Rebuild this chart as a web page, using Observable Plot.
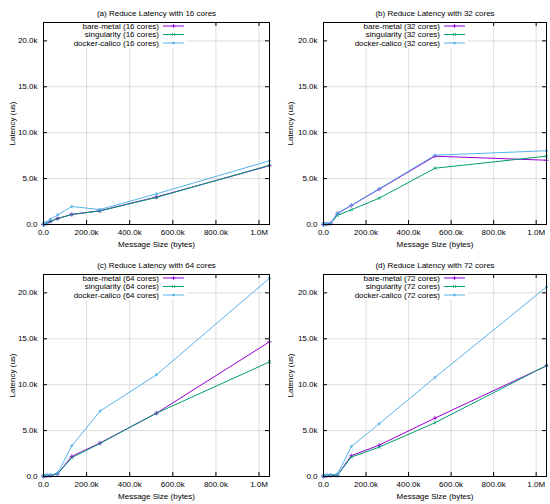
<!DOCTYPE html>
<html>
<head>
<meta charset="utf-8">
<script src="https://cdn.jsdelivr.net/npm/d3@7"></script>
<script src="https://cdn.jsdelivr.net/npm/@observablehq/plot@0.6"></script>
<style>
  body { margin: 0; background: #fff; }
  #chart { width: 550px; display: grid; grid-template-columns: 275px 275px; }
  #chart svg { display: block; }
</style>
</head>
<body>
<div id="chart"></div>
<script>
// message sizes (bytes)
const sizes = [8, 64, 512, 4096, 16384, 32768, 65536, 131072, 262144, 524288, 1048576]

// latency (us)
const bare16   = [10, 12, 20, 50, 150, 350, 650, 1100, 1500, 3000, 6400]
const sing16   = [10, 12, 20, 50, 150, 340, 640, 1080, 1480, 2950, 6450]
const docker16 = [15, 18, 30, 80, 250, 580, 1050, 1960, 1630, 3340, 6940]

const bare32   = [10, 12, 20, 40, 60, 100, 1200, 2070, 3850, 7440, 7000]
const sing32   = [10, 12, 20, 40, 60, 90, 1000, 1600, 2870, 6130, 7440]
const docker32 = [12, 15, 25, 50, 80, 120, 1250, 2100, 3900, 7550, 8030]

const bare64   = [20, 25, 40, 60, 80, 100, 290, 2190, 3650, 6900, 14670]
const sing64   = [20, 25, 40, 60, 80, 100, 280, 2050, 3600, 6900, 12480]
const docker64 = [30, 35, 60, 100, 150, 200, 350, 3340, 7120, 11080, 21600]

const bare72   = [20, 25, 40, 60, 80, 100, 150, 2270, 3420, 6360, 12050]
const sing72   = [20, 25, 40, 60, 80, 100, 140, 2120, 3200, 5860, 12080]
const docker72 = [30, 35, 60, 100, 150, 200, 250, 3270, 5750, 10790, 20640]

const seriesNames = ['bare-metal', 'singularity', 'docker-calico']
const colors = ['#9400d3', '#009e73', '#56b4e9']
const symbols = ['plus', 'times', 'asterisk']
const d3symbols = [d3.symbolPlus, d3.symbolTimes, d3.symbolAsterisk]

const xTicks = [0, 200000, 400000, 600000, 800000, 1000000]
const yTicks = [0, 5000, 10000, 15000, 20000]

const panels = [
  {letter: 'a', cores: 16, data: [bare16, sing16, docker16]},
  {letter: 'b', cores: 32, data: [bare32, sing32, docker32]},
  {letter: 'c', cores: 64, data: [bare64, sing64, docker64]},
  {letter: 'd', cores: 72, data: [bare72, sing72, docker72]},
]

const fmtX = d => d == 0 ? '0.0' : d >= 1000000 ? (d / 1000000).toFixed(1) + 'M' : (d / 1000).toFixed(1) + 'k'
const fmtY = d => d == 0 ? '0.0' : (d / 1000).toFixed(1) + 'k'

const font = '"Liberation Sans", Arial, sans-serif'

panels.forEach((p, i) => {
  let right = i % 2 == 1
  let ml = right ? 48 : 43
  let mr = right ? 4 : 6
  let W = 275, H = 252, mt = 22, mb = 28
  let fw = W - ml - mr, fh = H - mt - mb

  let rows = []
  p.data.forEach((vals, s) => {
    sizes.forEach((size, j) => rows.push({size, latency: vals[j], series: `${seriesNames[s]} (${p.cores} cores)`}))
  })
  let labels = seriesNames.map(n => `${n} (${p.cores} cores)`)

  let chart = Plot.plot({
    width: W, height: H,
    marginLeft: ml, marginRight: mr, marginTop: mt, marginBottom: mb,
    style: {fontSize: '8px', fontFamily: font, color: '#000', background: '#fff'},
    x: {domain: [0, 1048576], ticks: xTicks, tickFormat: fmtX, tickSize: 0, tickPadding: 5,
        label: 'Message Size (bytes)', labelAnchor: 'center', labelOffset: 22, labelArrow: 'none'},
    y: {domain: [0, 22000], ticks: yTicks, tickFormat: fmtY, tickSize: 0, tickPadding: 6,
        label: 'Latency (us)', labelAnchor: 'center', labelOffset: right ? 36 : 34, labelArrow: 'none'},
    color: {domain: labels, range: colors},
    symbol: {domain: labels, range: symbols},
    marks: [
      Plot.ruleX(xTicks, {stroke: '#cfcfcf', strokeWidth: 0.7}),
      Plot.ruleY(yTicks, {stroke: '#cfcfcf', strokeWidth: 0.7}),
      // inward tick marks, gnuplot style
      Plot.ruleX(xTicks, {stroke: '#000', insetTop: fh - 4}),
      Plot.ruleX(xTicks, {stroke: '#000', insetBottom: fh - 4}),
      Plot.ruleY(yTicks, {stroke: '#000', insetRight: fw - 4}),
      Plot.ruleY(yTicks, {stroke: '#000', insetLeft: fw - 4}),
      Plot.line(rows, {x: 'size', y: 'latency', z: 'series', stroke: 'series', strokeWidth: 1}),
      Plot.dot(rows, {x: 'size', y: 'latency', stroke: 'series', symbol: 'series', r: 1.5, strokeWidth: 0.8}),
      Plot.frame({stroke: '#000'}),
      Plot.text([`(${p.letter}) Reduce Latency with ${p.cores} cores`], {frameAnchor: 'top', dy: -12, fontSize: 8}),
    ],
  })

  // legend, top inside the frame, on an opaque box like gnuplot's
  let svg = d3.select(chart.tagName == 'svg' ? chart : chart.querySelector('svg'))
  let lx = right ? 165 : 159
  let leg = svg.append('g').attr('font-family', font).attr('font-size', 8)
  leg.append('rect').attr('x', ml + 5).attr('y', mt + 1).attr('width', lx + 28 - ml - 5).attr('height', 25)
    .attr('fill', '#fff')
  labels.forEach((l, k) => {
    let y = 26 + k * 8.5
    leg.append('text').attr('x', lx).attr('y', y).attr('dy', '0.32em')
      .attr('text-anchor', 'end').attr('fill', '#000').text(l)
    leg.append('line').attr('x1', lx + 4).attr('x2', lx + 25).attr('y1', y).attr('y2', y)
      .attr('stroke', colors[k]).attr('stroke-width', 1)
    leg.append('path').attr('d', d3.symbol(d3symbols[k], 6)())
      .attr('transform', `translate(${lx + 14.5},${y})`)
      .attr('fill', 'none').attr('stroke', colors[k]).attr('stroke-width', 0.8)
  })

  d3.select('#chart').append(() => chart)
})
</script>
</body>
</html>
